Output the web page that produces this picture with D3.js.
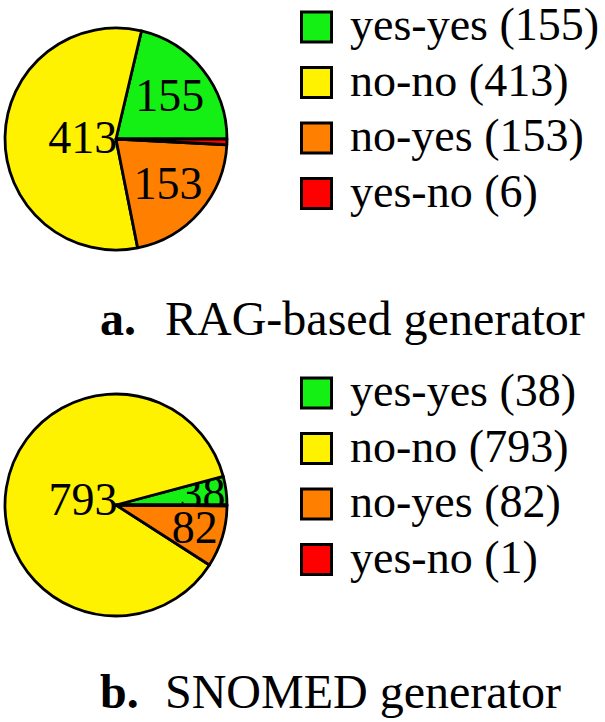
<!DOCTYPE html>
<html lang="en">

<head>
    <meta charset="UTF-8">
    <style>
        body {
            margin: 0;
        }
    </style>
</head>

<body>
    <div id="chart"></div>
    <script src="https://d3js.org/d3.v7.min.js"></script>
    <script>
        const categories = ["yes-yes", "no-no", "no-yes", "yes-no"];
        const colors = ["#14f014", "#fff200", "#ff8000", "#ff0000"];
        const ragValues = [155, 413, 153, 6];
        const snomedValues = [38, 793, 82, 1];
        const panelLabels = ["a.", "b."];
        const panelTitles = ["RAG-based generator", "SNOMED generator"];

        const width = 605;
        const height = 722;
        const radius = 111;
        const rowGap = 55.5;

        const panels = [
            { values: ragValues, cx: 116, cy: 139, titleY: 335 },
            { values: snomedValues, cx: 116, cy: 505, titleY: 708 }
        ];

        const svg = d3.select("#chart").append("svg")
            .attr("width", width)
            .attr("height", height);

        // counter-clockwise from 3 o'clock, like pgf-pie
        const pie = d3.pie()
            .sort(null)
            .startAngle(Math.PI / 2)
            .endAngle(Math.PI / 2 - 2 * Math.PI);

        const arc = d3.arc()
            .innerRadius(0)
            .outerRadius(radius);

        const color = d3.scaleOrdinal()
            .domain(categories)
            .range(colors);

        // label distance shrinks with slice size
        const labelPos = span => Math.max(Math.min((span - 10) / 110 * -0.3, 0), -0.5) + 0.8;

        panels.forEach((p, pi) => {
            const arcs = pie(p.values);
            const total = d3.sum(p.values);

            // slice then its number, one after the other
            arcs.forEach((a, i) => {
                svg.append("path")
                    .attr("transform", `translate(${p.cx},${p.cy})`)
                    .attr("d", arc(a))
                    .attr("fill", color(categories[i]))
                    .attr("stroke", "#000")
                    .attr("stroke-width", 2.8)
                    .attr("stroke-linejoin", "round");

                if (a.value / total < 0.01) return;
                const span = Math.abs(a.endAngle - a.startAngle) * 180 / Math.PI;
                const mid = (a.startAngle + a.endAngle) / 2;
                const rr = labelPos(span) * radius;
                svg.append("text")
                    .attr("x", p.cx + Math.sin(mid) * rr)
                    .attr("y", p.cy - Math.cos(mid) * rr + 15)
                    .attr("text-anchor", "middle")
                    .attr("font-family", "Liberation Serif")
                    .attr("font-size", 46)
                    .text(a.value);
            });

            // legend
            categories.forEach((c, i) => {
                const y = p.cy - 1 + (i - 2) * rowGap;
                svg.append("rect")
                    .attr("x", 301.5)
                    .attr("y", y - 15)
                    .attr("width", 30)
                    .attr("height", 30)
                    .attr("fill", color(c))
                    .attr("stroke", "#000")
                    .attr("stroke-width", 3);
                svg.append("text")
                    .attr("x", 350)
                    .attr("y", y + 13)
                    .attr("font-family", "Liberation Serif")
                    .attr("font-size", 46)
                    .text(`${c} (${p.values[i]})`);
            });

            // caption
            svg.append("text")
                .attr("x", 100)
                .attr("y", p.titleY)
                .attr("font-family", "Liberation Serif")
                .attr("font-weight", "bold")
                .attr("font-size", 48)
                .text(panelLabels[pi]);
            svg.append("text")
                .attr("x", 165)
                .attr("y", p.titleY)
                .attr("font-family", "Liberation Serif")
                .attr("font-size", 48)
                .text(panelTitles[pi]);
        });
    </script>
</body>

</html>
